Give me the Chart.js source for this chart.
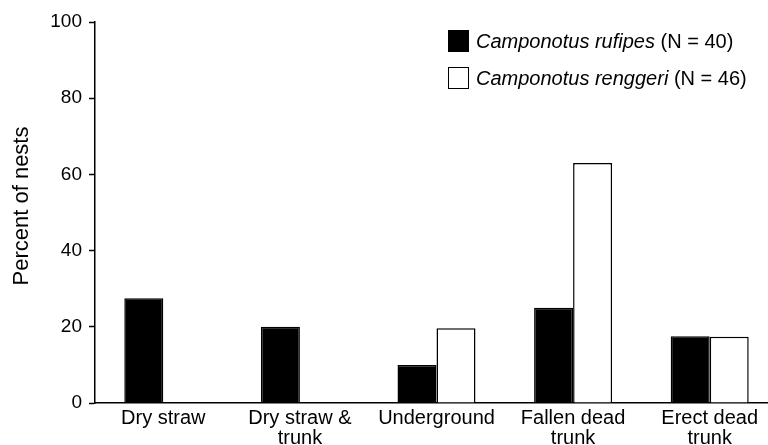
<!DOCTYPE html>
<html>
<head>
<meta charset="utf-8">
<script src="https://cdn.jsdelivr.net/npm/chart.js@4/dist/chart.umd.min.js"></script>
<style>
html,body{margin:0;padding:0;background:#fff;overflow:hidden;width:768px;height:445px;}
#wrap{position:absolute;left:0;top:0;width:778px;height:445px;}
</style>
</head>
<body>
<div id="wrap"><canvas id="c" width="778" height="445"></canvas></div>
<script>
const categories = [["Dry straw"], ["Dry straw &", "trunk"], ["Underground"], ["Fallen dead", "trunk"], ["Erect dead", "trunk"]];
const rufipes = [27.5, 20, 10, 25, 17.5];
const renggeri = [0, 0, 19.6, 63.0, 17.4];
const seriesNames = ["Camponotus rufipes", "Camponotus renggeri"];
const seriesN = ["(N = 40)", "(N = 46)"];
const yTitle = "Percent of nests";

const FONT = "'Liberation Sans', Arial, sans-serif";

const customDraw = {
  id: 'customDraw',
  afterDraw(chart) {
    const ctx = chart.ctx;
    ctx.save();
    // y axis title
    ctx.fillStyle = '#000';
    ctx.font = '22px ' + FONT;
    ctx.textAlign = 'center';
    ctx.textBaseline = 'middle';
    ctx.translate(22, 206);
    ctx.rotate(-Math.PI / 2);
    ctx.fillText(yTitle, 0, 0);
    ctx.restore();
    // legend
    ctx.save();
    const items = [
      {fill: '#000', y: 30},
      {fill: '#fff', y: 67}
    ];
    items.forEach((it, i) => {
      ctx.fillStyle = it.fill;
      ctx.fillRect(448, it.y, 21, 22);
      ctx.strokeStyle = '#000';
      ctx.lineWidth = 1;
      ctx.strokeRect(448.5, it.y + 0.5, 20, 21);
      ctx.fillStyle = '#000';
      ctx.textBaseline = 'middle';
      ctx.textAlign = 'left';
      ctx.font = 'italic 20px ' + FONT;
      const x0 = 476;
      const yc = it.y + 12;
      ctx.fillText(seriesNames[i], x0, yc);
      const w = ctx.measureText(seriesNames[i] + ' ').width;
      ctx.font = '20px ' + FONT;
      ctx.fillText(seriesN[i], x0 + w, yc);
    });
    ctx.restore();
  }
};

new Chart(document.getElementById('c'), {
  type: 'bar',
  data: {
    labels: categories,
    datasets: [
      {label: seriesNames[0], data: rufipes, backgroundColor: '#000', borderColor: '#000', borderWidth: 1.5,
       barPercentage: 1.0, categoryPercentage: 0.571},
      {label: seriesNames[1], data: renggeri, backgroundColor: '#fff', borderColor: '#000', borderWidth: 1.5,
       barPercentage: 1.0, categoryPercentage: 0.571}
    ]
  },
  options: {
    responsive: false,
    animation: false,
    events: [],
    layout: {padding: {left: 0, right: 0, top: 22, bottom: 0}},
    plugins: {legend: {display: false}, tooltip: {enabled: false}, title: {display: false}},
    scales: {
      x: {
        afterFit(s) { s.height = 42; },
        grid: {display: true, drawOnChartArea: false, drawTicks: false},
        border: {display: true, color: '#000', width: 1.5},
        ticks: {color: '#000', font: {family: FONT, size: 20, lineHeight: 1.0}, padding: 5, maxRotation: 0, autoSkip: false}
      },
      y: {
        min: 0, max: 100,
        afterFit(s) { s.width = 95; },
        grid: {display: true, drawOnChartArea: false, drawTicks: true, tickLength: 6, color: '#000', tickWidth: 1.5},
        border: {display: true, color: '#000', width: 1.5},
        ticks: {stepSize: 20, color: '#000', font: {family: FONT, size: 19}, padding: 7}
      }
    }
  },
  plugins: [customDraw]
});
</script>
</body>
</html>
